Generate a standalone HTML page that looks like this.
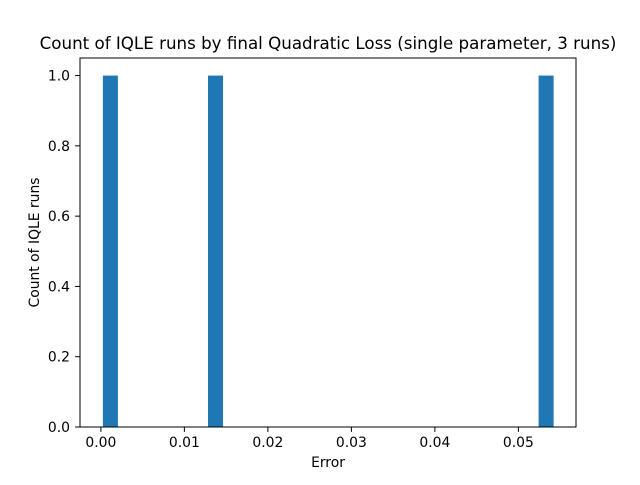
<!DOCTYPE html>
<html><head><meta charset="utf-8"><style>
body{margin:0;background:#fff}
svg text{font-family:"DejaVu Sans","Liberation Sans",sans-serif;fill:#000}
</style></head><body>
<svg id="chart" width="640" height="480" xmlns="http://www.w3.org/2000/svg">
<rect width="640" height="480" fill="#fff"/>
<text x="328" y="49" font-size="16.7" text-anchor="middle">Count of IQLE runs by final Quadratic Loss (single parameter, 3 runs)</text>
<g id="bars"></g>
<g id="axes"></g>
<rect x="80" y="58" width="496" height="369" fill="none" stroke="#000" stroke-width="1"/>
<text x="328" y="467" font-size="13.9" text-anchor="middle">Error</text>
<text transform="translate(39,242.5) rotate(-90)" font-size="13.9" text-anchor="middle">Count of IQLE runs</text>
</svg>
<script>
const binLefts = [0.00024, 0.01283, 0.05242];
const binWidth = 0.0018;
const counts = [1, 1, 1];
const xTicks = [0, 0.01, 0.02, 0.03, 0.04, 0.05];
const xTickLabels = ["0.00", "0.01", "0.02", "0.03", "0.04", "0.05"];
const yTicks = [0, 0.2, 0.4, 0.6, 0.8, 1.0];
const yTickLabels = ["0.0", "0.2", "0.4", "0.6", "0.8", "1.0"];

const NS = "http://www.w3.org/2000/svg";
const L = 80, R = 576, T = 58, B = 427;
const xmin = -0.0025, xmax = 0.0569, ymin = 0, ymax = 1.05;
const sx = v => L + (v - xmin) / (xmax - xmin) * (R - L);
const sy = v => B - (v - ymin) / (ymax - ymin) * (B - T);

const bars = document.getElementById('bars');
binLefts.forEach((x0, i) => {
  const r = document.createElementNS(NS, 'rect');
  r.setAttribute('x', sx(x0));
  r.setAttribute('width', sx(x0 + binWidth) - sx(x0));
  r.setAttribute('y', sy(counts[i]));
  r.setAttribute('height', sy(0) - sy(counts[i]));
  r.setAttribute('fill', '#1f77b4');
  
  
  bars.appendChild(r);
});

const axes = document.getElementById('axes');
xTicks.forEach((v, i) => {
  const x = sx(v);
  const l = document.createElementNS(NS, 'line');
  l.setAttribute('x1', x); l.setAttribute('x2', x);
  l.setAttribute('y1', B); l.setAttribute('y2', B + 4.9);
  l.setAttribute('stroke', '#000');
  
  
  axes.appendChild(l);
  const t = document.createElementNS(NS, 'text');
  t.setAttribute('x', x); t.setAttribute('y', B + 20);
  t.setAttribute('font-size', '13.9');
  t.setAttribute('text-anchor', 'middle');
  t.textContent = xTickLabels[i];
  
  
  axes.appendChild(t);
});
yTicks.forEach((v, i) => {
  const y = sy(v);
  const l = document.createElementNS(NS, 'line');
  l.setAttribute('x1', L - 4.9); l.setAttribute('x2', L);
  l.setAttribute('y1', y); l.setAttribute('y2', y);
  l.setAttribute('stroke', '#000');
  
  
  axes.appendChild(l);
  const t = document.createElementNS(NS, 'text');
  t.setAttribute('x', L - 10); t.setAttribute('y', y + 5);
  t.setAttribute('font-size', '13.9');
  t.setAttribute('text-anchor', 'end');
  t.textContent = yTickLabels[i];
  
  
  axes.appendChild(t);
});
</script>
</body></html>
